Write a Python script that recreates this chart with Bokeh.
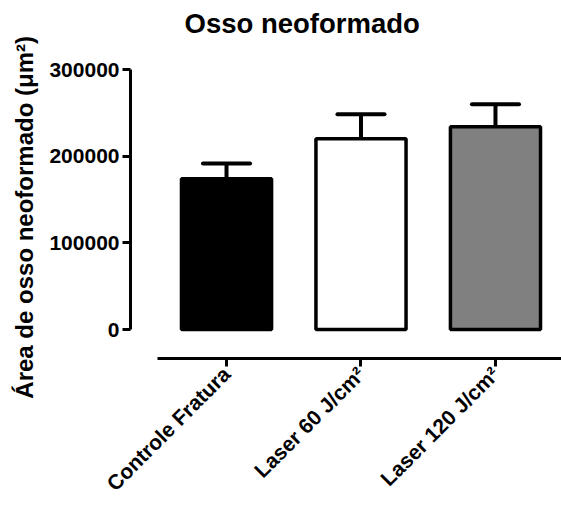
import math
from bokeh.plotting import figure
from bokeh.models import Range1d, FixedTicker, BasicTickFormatter, ColumnDataSource, Title
from bokeh.embed import file_html
from bokeh.resources import INLINE

# ---- data ----
categories = ["Controle Fratura", "Laser 60 J/cm²", "Laser 120 J/cm²"]
means = [174000, 220000, 234000]
sems = [17600, 28300, 25800]
fill_colors = ["#000000", "#ffffff", "#808080"]
y_ticks = [0, 100000, 200000, 300000]

positions = list(range(len(categories)))
src = ColumnDataSource(dict(
    x=positions,
    top=means,
    upper=[m + s for m, s in zip(means, sems)],
    cap_l=[x - 0.175 for x in positions],
    cap_r=[x + 0.175 for x in positions],
    color=fill_colors,
))

FONT = "Liberation Sans"

p = figure(width=561, height=506, output_backend="svg", toolbar_location=None,
           x_range=Range1d(-0.714, 2.491), y_range=Range1d(-33333, 300000),
           min_border_left=130, min_border_right=0, min_border_top=69,
           min_border_bottom=147)
p.outline_line_color = None
p.xgrid.visible = False
p.ygrid.visible = False

# bars
p.vbar(x="x", top="top", bottom=0, width=0.67, source=src, fill_color="color",
       line_color="black", line_width=3.5)
# error bars (upper only)
p.segment(x0="x", y0="top", x1="x", y1="upper", source=src,
          line_color="black", line_width=4)
p.segment(x0="cap_l", y0="upper", x1="cap_r", y1="upper", source=src,
          line_color="black", line_width=4, line_cap="round")

# spacer between title and plot area
p.add_layout(Title(text=" ", text_font_size="1px", standoff=28), "above")

# title
p.title.text = "Osso neoformado"
p.title.text_font = FONT
p.title.text_font_size = "27.5px"
p.title.text_font_style = "bold"
p.title.text_color = "black"
p.title.align = "left"
p.title.offset = 54
p.title.standoff = 0

# y axis
ya = p.yaxis[0]
ya.ticker = FixedTicker(ticks=y_ticks)
ya.formatter = BasicTickFormatter(use_scientific=False)
ya.bounds = (y_ticks[0], y_ticks[-1])
ya.axis_label = "Área de osso neoformado  (μm²)"
ya.axis_label_text_font = FONT
ya.axis_label_text_font_size = "24px"
ya.axis_label_text_font_style = "bold"
ya.axis_label_text_color = "black"
ya.axis_label_standoff = 8
ya.major_label_text_font = FONT
ya.major_label_text_font_size = "21px"
ya.major_label_text_font_style = "bold"
ya.major_label_text_color = "black"
ya.major_label_standoff = 3
ya.axis_line_width = 3
ya.major_tick_line_width = 3
ya.major_tick_out = 8
ya.major_tick_in = 0
ya.minor_tick_line_color = None

# x axis
xa = p.xaxis[0]
xa.ticker = FixedTicker(ticks=positions)
xa.major_label_overrides = {i: c for i, c in zip(positions, categories)}
xa.bounds = (-0.513, 2.491)
xa.major_label_orientation = math.pi / 4
xa.major_label_text_font = FONT
xa.major_label_text_font_size = "21px"
xa.major_label_text_font_style = "bold"
xa.major_label_text_color = "black"
xa.major_label_standoff = 4
xa.axis_line_width = 3
xa.major_tick_line_width = 3
xa.major_tick_out = 8
xa.major_tick_in = 0
xa.minor_tick_line_color = None

open("out.html", "w").write(file_html(p, INLINE))
